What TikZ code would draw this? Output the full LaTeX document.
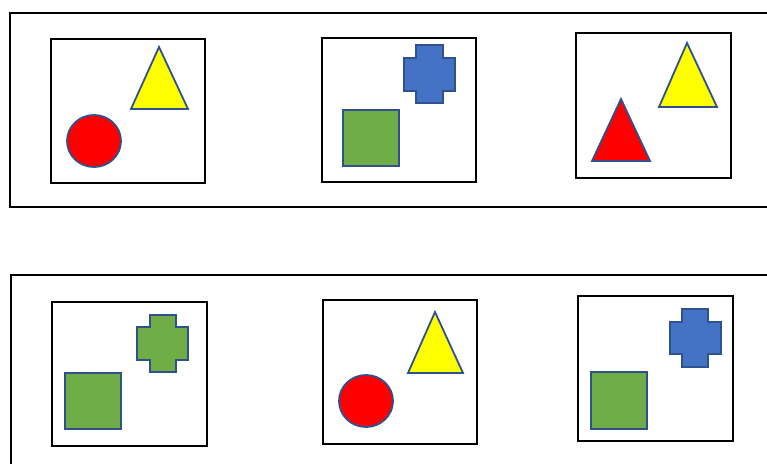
\documentclass[tikz,border=0pt]{standalone}
\definecolor{shred}{HTML}{FF0000}
\definecolor{shyellow}{HTML}{FFFF00}
\definecolor{shgreen}{HTML}{70AD47}
\definecolor{shblue}{HTML}{4472C4}
\definecolor{shedge}{HTML}{2F528F}
\begin{document}
\begin{tikzpicture}[x=1pt,y=-1pt,
  panel/.style={draw=black,line width=2.3pt},
  card/.style={draw=black,line width=2.3pt,fill=white},
  figstyle/.style={draw=shedge,line width=1.8pt,line join=miter},
  redfill/.style={figstyle,fill=shred},
  yellowfill/.style={figstyle,fill=shyellow},
  greenfill/.style={figstyle,fill=shgreen},
  bluefill/.style={figstyle,fill=shblue}]
\useasboundingbox (0,0) rectangle (767,463);
\clip (0,0) rectangle (767,463);
% outer panels
\draw[panel] (10,13) rectangle (790,207);
\draw[panel] (11,275) rectangle (790,480);
% top row
\draw[card] (51,39) rectangle (205,183);
\draw[yellowfill] (159,47) -- (188,109) -- (131,109) -- cycle;
\draw[redfill] (94,141) ellipse [x radius=27, y radius=26];

\draw[card] (322,38) rectangle (476,182);
\draw[bluefill] (416,45) -- (443,45) -- (443,58) -- (455,58) -- (455,91) -- (443,91) -- (443,103) -- (416,103) -- (416,91) -- (404,91) -- (404,58) -- (416,58) -- cycle;
\draw[greenfill] (343,110) rectangle (399,166);

\draw[card] (576,33) rectangle (731,178);
\draw[yellowfill] (687,43) -- (717,107) -- (659,107) -- cycle;
\draw[redfill] (621,99) -- (650,161) -- (592,161) -- cycle;
% bottom row
\draw[card] (52,302) rectangle (207,446);
\draw[greenfill] (150,315) -- (176,315) -- (176,327) -- (188,327) -- (188,360) -- (176,360) -- (176,372) -- (150,372) -- (150,360) -- (137,360) -- (137,327) -- (150,327) -- cycle;
\draw[greenfill] (65,373) rectangle (121,429);

\draw[card] (323,300) rectangle (477,444);
\draw[yellowfill] (435,312) -- (463,373) -- (408,373) -- cycle;
\draw[redfill] (366,401) ellipse [x radius=27, y radius=26];

\draw[card] (578,296) rectangle (733,441);
\draw[bluefill] (682,309) -- (708,309) -- (708,322) -- (721,322) -- (721,354) -- (708,354) -- (708,367) -- (682,367) -- (682,354) -- (670,354) -- (670,322) -- (682,322) -- cycle;
\draw[greenfill] (591,372) rectangle (647,429);
\end{tikzpicture}
\end{document}
